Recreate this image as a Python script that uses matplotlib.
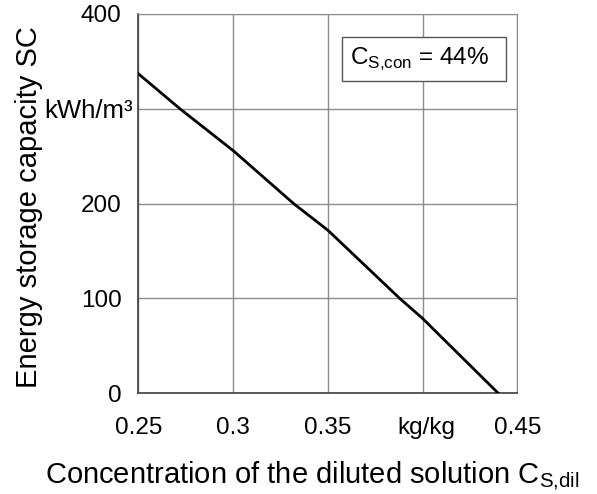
import matplotlib
matplotlib.use('Agg')
from matplotlib import pyplot as plt
from matplotlib.patches import Rectangle
from matplotlib.transforms import ScaledTranslation

plt.rcParams['font.family'] = ['Liberation Sans', 'DejaVu Sans']

# values
conc_dil = [0.25, 0.272, 0.30, 0.332, 0.35, 0.388, 0.40, 0.44]
storage = [337, 300, 256, 200, 172, 100, 79, 0]

x_ticks = [0.25, 0.3, 0.35, 0.4, 0.45]
x_labels = ['0.25', '0.3', '0.35', 'kg/kg', '0.45']
y_ticks = [0, 100, 200, 300, 400]
y_labels = ['0', '100', '200', 'kWh/m³', '400']

fig = plt.figure(figsize=(5.97, 4.94), dpi=100)
ax = fig.add_axes([0.2317, 0.2038, 0.6348, 0.7679])

ax.plot(conc_dil, storage, color='black', lw=2.0, zorder=3)

ax.set_xlim(0.25, 0.45)
ax.set_ylim(0, 400)
ax.set_xticks(x_ticks)
ax.set_xticklabels(x_labels)
ax.set_yticks(y_ticks)
ax.set_yticklabels(y_labels)
ax.tick_params(axis='both', length=0, labelsize=17.5)
ax.tick_params(axis='x', pad=17)
ax.tick_params(axis='y', pad=12)

# unit labels sit a bit off the tick positions
unit_y = ax.get_yticklabels()[3]
unit_y.set_fontsize(18.5)
unit_y.set_transform(unit_y.get_transform() + ScaledTranslation(11/100, 0, fig.dpi_scale_trans))
unit_x = ax.get_xticklabels()[3]
unit_x.set_transform(unit_x.get_transform() + ScaledTranslation(4/100, 0, fig.dpi_scale_trans))

ax.grid(True, color='#8c8c8c', lw=1)
for s in ['top', 'right']:
    ax.spines[s].set_color('#8c8c8c')
for s in ['left', 'bottom']:
    ax.spines[s].set_color('#404040')
    ax.spines[s].set_linewidth(1.2)

ax.set_xlabel('Concentration of the diluted solution C$_{\\mathregular{S{,}dil}}$', fontsize=21)
ax.xaxis.set_label_coords(0.458, -0.172)
ax.set_ylabel('Energy storage capacity SC', fontsize=21)
ax.yaxis.set_label_coords(-0.251, 0.49)

# box with the concentrated solution value
ax.add_patch(Rectangle((0.5375, 0.823), 0.4325, 0.116, transform=ax.transAxes,
                       fc='white', ec='#555555', lw=1, zorder=4))
ax.text(0.743, 0.881, 'C$_{\\mathregular{S{,}con}}$ = 44%', transform=ax.transAxes,
        ha='center', va='center', fontsize=17.5, zorder=5)

fig.savefig('out.png', dpi=100)
